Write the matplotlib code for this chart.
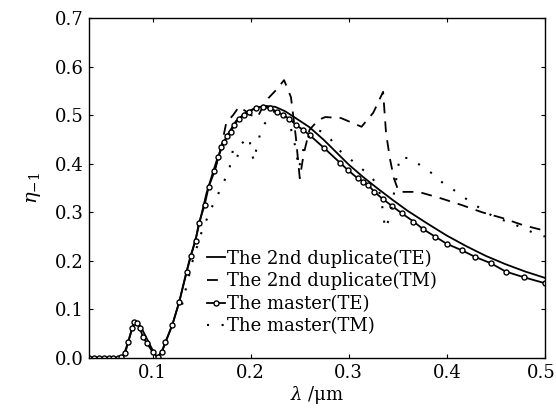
import numpy as np
import matplotlib
matplotlib.use("Agg")
import matplotlib.pyplot as plt
import matplotlib.transforms as mtransforms

plt.rcParams['font.family'] = 'DejaVu Serif'
plt.rcParams['mathtext.fontset'] = 'dejavuserif'

# The master (TE) -- sampled points, drawn with open circles
lam_m_te = [0.035, 0.040, 0.045, 0.050, 0.055, 0.060, 0.065, 0.068, 0.072, 0.075,
            0.079, 0.081, 0.084, 0.087, 0.090, 0.094, 0.100, 0.105, 0.109, 0.113,
            0.120, 0.127, 0.1345, 0.1386, 0.1437, 0.147, 0.153, 0.157, 0.163, 0.167,
            0.170, 0.173, 0.176, 0.180, 0.183, 0.188, 0.193, 0.198, 0.205, 0.212,
            0.220, 0.227, 0.233, 0.239, 0.246, 0.253, 0.260, 0.275, 0.291, 0.299,
            0.309, 0.315, 0.320, 0.326, 0.335, 0.344, 0.354, 0.366, 0.376, 0.388,
            0.400, 0.415, 0.429, 0.445, 0.460, 0.479, 0.500]
eta_m_te = [0.0, 0.0, 0.0, 0.0, 0.0, 0.0, 0.0, 0.002, 0.010, 0.033,
            0.062, 0.074, 0.072, 0.062, 0.043, 0.031, 0.012, 0.002, 0.012, 0.033,
            0.068, 0.115, 0.178, 0.210, 0.241, 0.277, 0.315, 0.352, 0.384, 0.414,
            0.435, 0.445, 0.456, 0.466, 0.480, 0.492, 0.500, 0.506, 0.515, 0.517,
            0.514, 0.507, 0.500, 0.493, 0.480, 0.470, 0.459, 0.432, 0.402, 0.387,
            0.370, 0.363, 0.356, 0.342, 0.327, 0.313, 0.298, 0.281, 0.265, 0.250,
            0.235, 0.222, 0.208, 0.195, 0.178, 0.166, 0.154]

# The 2nd duplicate (TE)
lam_d_te = [0.035, 0.065, 0.070, 0.075, 0.080, 0.084, 0.088, 0.092, 0.097, 0.102,
            0.105, 0.110, 0.115, 0.120, 0.127, 0.135, 0.145, 0.155, 0.165, 0.175,
            0.185, 0.195, 0.205, 0.215, 0.225, 0.235, 0.245, 0.260, 0.275, 0.290,
            0.300, 0.315, 0.330, 0.345, 0.360, 0.380, 0.400, 0.420, 0.440, 0.460,
            0.480, 0.500]
eta_d_te = [0.0, 0.0, 0.004, 0.033, 0.066, 0.074, 0.064, 0.048, 0.028, 0.008,
            0.002, 0.016, 0.042, 0.068, 0.115, 0.180, 0.255, 0.340, 0.405, 0.455,
            0.488, 0.505, 0.515, 0.519, 0.517, 0.508, 0.495, 0.475, 0.448, 0.418,
            0.398, 0.372, 0.348, 0.325, 0.303, 0.277, 0.252, 0.230, 0.210, 0.193,
            0.178, 0.165]

# The 2nd duplicate (TM)
lam_d_tm = [0.163, 0.170, 0.175, 0.182, 0.188, 0.195, 0.200, 0.207, 0.213, 0.218,
            0.226, 0.234, 0.241, 0.246, 0.250, 0.254, 0.260, 0.269, 0.276, 0.292,
            0.313, 0.325, 0.335, 0.338, 0.342, 0.346, 0.351, 0.371, 0.392, 0.415,
            0.436, 0.457, 0.477, 0.500]
eta_d_tm = [0.384, 0.435, 0.484, 0.500, 0.517, 0.508, 0.500, 0.496, 0.520, 0.535,
            0.552, 0.572, 0.537, 0.455, 0.370, 0.420, 0.470, 0.490, 0.496, 0.494,
            0.476, 0.505, 0.548, 0.463, 0.410, 0.370, 0.342, 0.342, 0.330, 0.315,
            0.300, 0.288, 0.274, 0.262]

# The master (TM)
lam_m_tm = [0.130, 0.140, 0.150, 0.159, 0.165, 0.172, 0.178, 0.182, 0.186, 0.190,
            0.198, 0.203, 0.208, 0.212, 0.219, 0.225, 0.232, 0.238, 0.242, 0.246,
            0.249, 0.254, 0.260, 0.267, 0.274, 0.282, 0.290, 0.300, 0.311, 0.321,
            0.328, 0.333, 0.337, 0.342, 0.347, 0.352, 0.364, 0.374, 0.385, 0.395,
            0.407, 0.418, 0.429, 0.440, 0.449, 0.460, 0.470, 0.487, 0.500]
eta_m_tm = [0.110, 0.195, 0.260, 0.305, 0.330, 0.360, 0.387, 0.430, 0.412, 0.440,
            0.455, 0.405, 0.450, 0.476, 0.496, 0.510, 0.505, 0.490, 0.465, 0.430,
            0.390, 0.432, 0.460, 0.470, 0.465, 0.449, 0.428, 0.412, 0.393, 0.377,
            0.360, 0.330, 0.266, 0.290, 0.350, 0.414, 0.410, 0.395, 0.380, 0.362,
            0.346, 0.330, 0.315, 0.300, 0.290, 0.282, 0.274, 0.259, 0.250]

xticks = [0.1, 0.2, 0.3, 0.4, 0.5]
xtick_labels = ['0.1', '0.2', '0.3', '0.4', '0.5']
yticks = [0.0, 0.1, 0.2, 0.3, 0.4, 0.5, 0.6, 0.7]
ytick_labels = ['0.0', '0.1', '0.2', '0.3', '0.4', '0.5', '0.6', '0.7']

fig = plt.figure(figsize=(5.56, 4.08), dpi=100)
ax = fig.add_axes([0.160, 0.1225, 0.820, 0.8335])

ax.plot(lam_d_te, eta_d_te, '-', color='black', lw=1.3,
        label='The 2nd duplicate(TE)')
ax.plot(lam_d_tm, eta_d_tm, color='black', lw=1.3, linestyle=(0, (6, 4.5)),
        label='The 2nd duplicate(TM)')
ax.plot(lam_m_te, eta_m_te, '-', color='black', lw=1.3, marker='o',
        markersize=3.6, markerfacecolor='white', markeredgewidth=1.0,
        label='The master(TE)')
ax.plot(lam_m_tm, eta_m_tm, color='black', lw=1.5, linestyle=(0, (1, 6)),
        label='The master(TM)')

ax.set_xlim(0.035, 0.5)
ax.set_ylim(0.0, 0.7)
ax.set_xticks(xticks)
ax.set_xticklabels(xtick_labels)
ax.set_yticks(yticks)
ax.set_yticklabels(ytick_labels)
ax.tick_params(direction='in', top=True, right=True, length=3, width=0.8,
               labelsize=13, pad=4)
for s in ax.spines.values():
    s.set_linewidth(1.0)

# nudge the last x label so it stays inside the canvas
last = ax.get_xticklabels()[-1]
last.set_transform(last.get_transform() +
                   mtransforms.ScaledTranslation(-4 / 100, 0, fig.dpi_scale_trans))

ax.set_xlabel(r'$\lambda$ /μm', fontsize=13, labelpad=2)
ax.set_ylabel(r'$\eta_{-1}$', fontsize=14, labelpad=8)

leg = ax.legend(loc='lower left', bbox_to_anchor=(0.24, 0.04), frameon=False,
                fontsize=13, handlelength=1.0, handletextpad=0.1,
                labelspacing=0.25, borderpad=0.0)

fig.savefig('out.png', dpi=100)
